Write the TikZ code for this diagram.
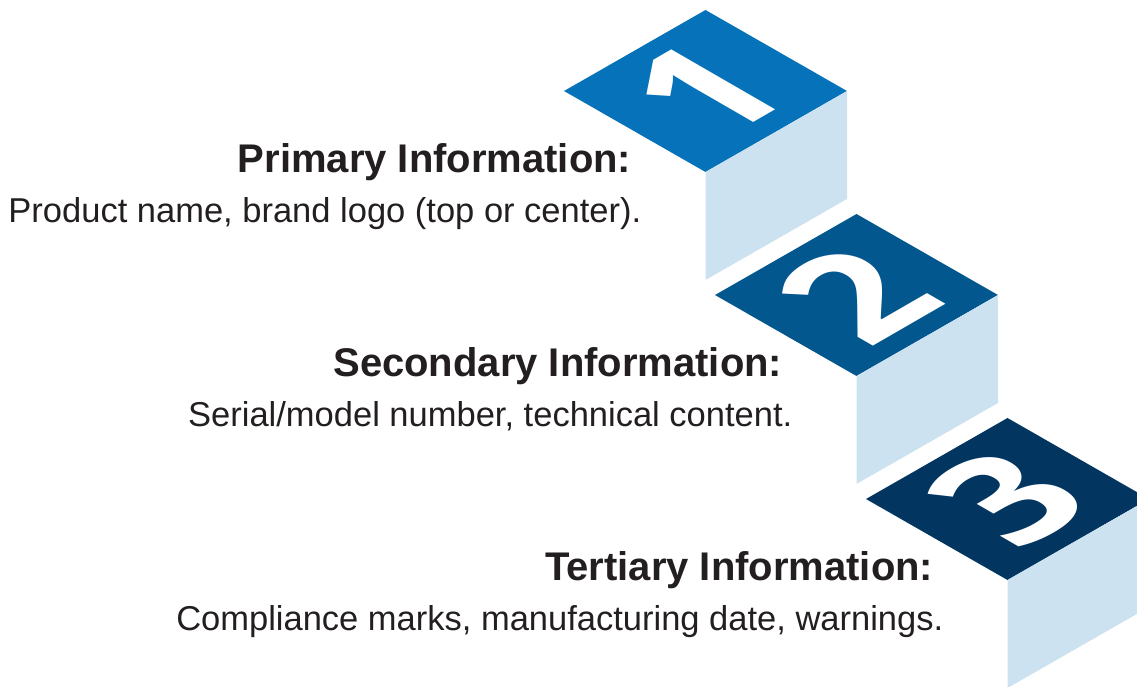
\documentclass[tikz,border=0pt]{standalone}
\usepackage{fontspec}
\setmainfont{Liberation Sans}
\newfontfamily\digitfont{Open Sans}
\usepackage{tikz}
\usetikzlibrary{positioning}
\definecolor{blueA}{HTML}{0672B9}
\definecolor{blueB}{HTML}{03578F}
\definecolor{blueC}{HTML}{023660}
\definecolor{sideblue}{HTML}{CCE2F1}
\definecolor{inkgray}{HTML}{231F20}

\begin{document}
\begin{tikzpicture}[x=1pt, y=-1pt,
   head/.style = {anchor=base east, inner sep=0pt, text=inkgray,
                  font=\fontsize{40}{42}\selectfont\bfseries},
   body/.style = {anchor=base east, inner sep=0pt, text=inkgray,
                  font=\fontsize{34.5}{36}\selectfont},
   digit/.style = {text=white, inner sep=0pt, transform shape,
                   font=\digitfont\bfseries\fontsize{168}{168}\selectfont}]
   \useasboundingbox (0,0) rectangle (1137,686);
   \begin{scope}
     \clip (0,0) rectangle (1137,686);
     \foreach \n/\col [count=\k from 0] in {1/blueA, 2/blueB, 3/blueC} {
       \coordinate (L\n) at ({564+151*\k},{91+204*\k});
       \path (L\n) ++(141.5,-81) coordinate (T\n) ++(141.5,81) coordinate (R\n)
             ++(-141.5,81) coordinate (B\n);
       \coordinate (M\n) at ({705.5+151*\k},{91+204*\k});
       \fill[\col] (L\n) -- (T\n) -- (R\n) -- (B\n) -- cycle;
       \fill[sideblue] (B\n) -- (R\n) -- ++(0,108) -- ++(-141.5,81) -- cycle;
       \begin{scope}[shift={(M\n)}]
         \node[digit, cm={0.866,0.5,-0.866,0.5,(0,0)}] (d\n) {\n};
       \end{scope}
     }
   \end{scope}
   \foreach \n/\head/\body in {1/Primary/{Product name, brand logo (top or center).},
       2/Secondary/{Serial/model number, technical content.},
       3/Tertiary/{Compliance marks, manufacturing date, warnings.}} {
     \node[head] (h\n) at ([xshift=-74pt]B\n) {\head\ Information:};
     \node[body] (b\n) at ([xshift=-64pt, yshift=-50pt]B\n) {\body};
   }
   % \draw[red] (0,0) rectangle (1137,686);
\end{tikzpicture}
\end{document}
